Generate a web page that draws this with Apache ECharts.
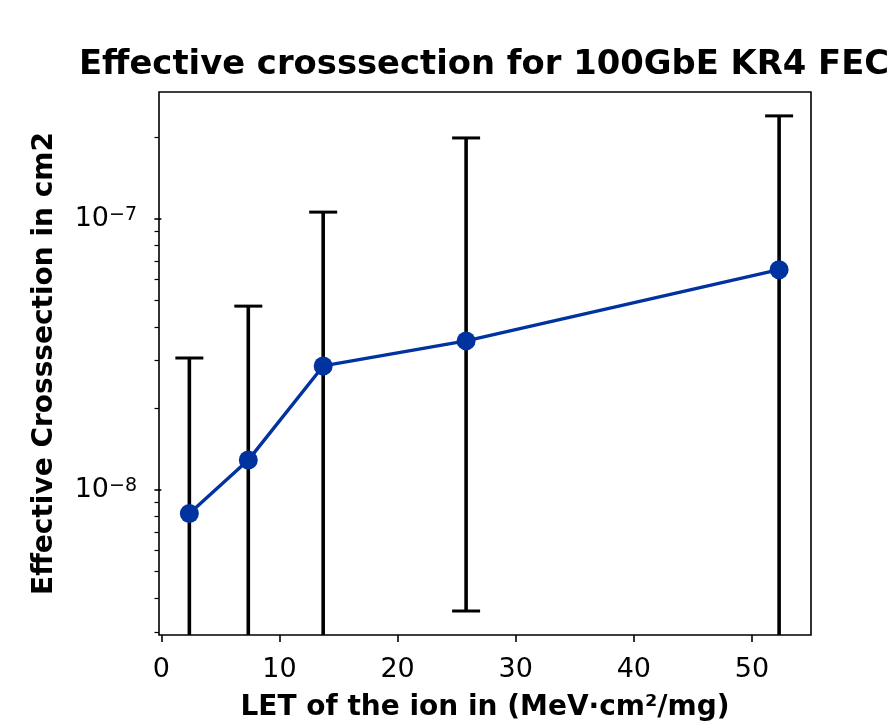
<!DOCTYPE html>
<html>
<head>
<meta charset="utf-8">
<script src="https://cdn.jsdelivr.net/npm/echarts@6/dist/echarts.min.js"></script>
<style>
  html, body { margin: 0; padding: 0; background: #fff; }
  #chart { width: 891px; height: 722px; }
</style>
</head>
<body>
<div id="chart"></div>
<script>
// LET of each ion run and the measured cross section
const letValues = [2.37, 7.36, 13.7, 25.8, 52.3];
const crossSection = [8.2e-9, 1.29e-8, 2.87e-8, 3.55e-8, 6.5e-8];
// upper / lower bounds of the error bars (null = below the plotted range)
const errUpper = [3.07e-8, 4.77e-8, 1.06e-7, 1.99e-7, 2.40e-7];
const errLower = [null, null, null, 3.58e-9, null];

const xTicks = [0, 10, 20, 30, 40, 50];
const yMajorTicks = [1e-8, 1e-7];
const yMinorTicks = [3e-9, 4e-9, 5e-9, 6e-9, 7e-9, 8e-9, 9e-9,
  2e-8, 3e-8, 4e-8, 5e-8, 6e-8, 7e-8, 8e-8, 9e-8, 2e-7];

const FONT = 'DejaVu Sans';
const chart = echarts.init(document.getElementById('chart'));

function powLabel(v) {
  var e = Math.round(Math.log10(v));
  if (Math.abs(Math.log10(v) - e) > 1e-6) return '';
  return '{b|10}{s|' + (e < 0 ? '\u2212' + (-e) : e) + '}';
}

var option = {
  animation: false,
  title: {
    text: 'Effective crosssection for 100GbE KR4 FEC',
    left: 484,
    textAlign: 'center',
    top: 48,
    padding: 0,
    textStyle: { fontFamily: FONT, fontSize: 33.8, fontWeight: 'bold', color: '#000' }
  },
  grid: {
    left: 159, right: 80, top: 92, bottom: 87,
    outerBoundsMode: 'none',
    containLabel: false,
    show: true, borderColor: '#000', borderWidth: 1.6, backgroundColor: 'transparent'
  },
  xAxis: {
    type: 'value',
    min: -0.2,
    max: 55,
    name: 'LET of the ion in (MeV\u00b7cm\u00b2/mg)',
    nameLocation: 'middle',
    nameGap: 59,
    nameTextStyle: { fontFamily: FONT, fontSize: 28, fontWeight: 'bold', color: '#000' },
    axisLine: { show: false },
    splitLine: { show: false },
    axisTick: { show: true, customValues: xTicks, length: 7, lineStyle: { color: '#000', width: 1.6 } },
    axisLabel: { customValues: xTicks, margin: 21, fontFamily: FONT, fontSize: 27, color: '#000' }
  },
  yAxis: [{
    type: 'log',
    min: 2.92e-9,
    max: 2.94e-7,
    name: 'Effective Crosssection in cm2',
    nameLocation: 'middle',
    nameRotate: 90,
    nameGap: 100,
    nameTextStyle: { fontFamily: FONT, fontSize: 28, fontWeight: 'bold', color: '#000' },
    axisLine: { show: false },
    splitLine: { show: false },
    axisTick: { show: true, customValues: yMajorTicks, length: 7, lineStyle: { color: '#000', width: 1.6 } },
    axisLabel: {
      customValues: yMajorTicks,
      margin: 22,
      formatter: powLabel,
      rich: {
        b: { fontFamily: FONT, fontSize: 27, color: '#000', lineHeight: 27 },
        s: { fontFamily: FONT, fontSize: 19, color: '#000', lineHeight: 27, verticalAlign: 'top', padding: [0, 0, 4, 0] }
      }
    }
  }, {
    type: 'log',
    position: 'left',
    min: 2.92e-9,
    max: 2.94e-7,
    axisLine: { show: false },
    splitLine: { show: false },
    axisTick: { show: true, customValues: yMinorTicks, length: 4.5, lineStyle: { color: '#000', width: 1.2 } },
    axisLabel: { show: false }
  }],
  series: [{
    type: 'custom',
    name: 'errors',
    z: 2,
    data: letValues.map(function (x, i) { return [x, errUpper[i]]; }),
    encode: { x: 0, y: 1 },
    renderItem: function (params, api) {
      var i = params.dataIndex;
      var top = api.coord([api.value(0), api.value(1)]);
      var cs = params.coordSys;
      var bottomY = errLower[i] == null ? cs.y + cs.height : api.coord([api.value(0), errLower[i]])[1];
      var half = 14;
      var capStyle = { stroke: '#000', lineWidth: 3 };
      var children = [
        { type: 'line', shape: { x1: top[0], y1: top[1], x2: top[0], y2: bottomY }, style: { stroke: '#000', lineWidth: 3.6 } },
        { type: 'line', shape: { x1: top[0] - half, y1: top[1], x2: top[0] + half, y2: top[1] }, style: capStyle }
      ];
      if (errLower[i] != null) {
        children.push({ type: 'line', shape: { x1: top[0] - half, y1: bottomY, x2: top[0] + half, y2: bottomY }, style: capStyle });
      }
      return { type: 'group', children: children };
    }
  }, {
    type: 'line',
    name: 'cross section',
    z: 5,
    data: letValues.map(function (x, i) { return [x, crossSection[i]]; }),
    symbol: 'circle',
    symbolSize: 19,
    lineStyle: { color: '#0033a0', width: 3.4 },
    itemStyle: { color: '#0033a0' }
  }]
};

chart.setOption(option);
</script>
</body>
</html>
